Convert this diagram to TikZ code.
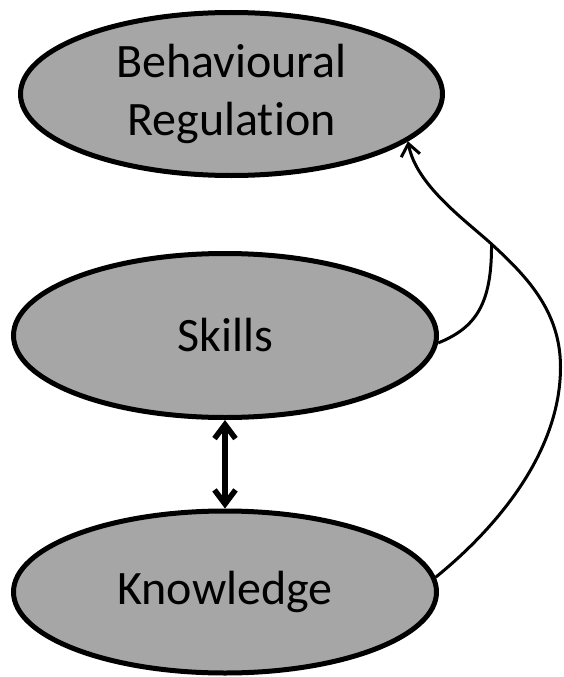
\documentclass[tikz,border=0pt]{standalone}
\usepackage{fontspec}
\setmainfont{Carlito}[Ligatures=NoCommon]
\usetikzlibrary{arrows.meta,shapes.geometric}
\definecolor{ovalfill}{RGB}{166,166,166}
\begin{document}
\begin{tikzpicture}[x=1pt,y=-1pt,
  oval/.style={ellipse,draw=black,line width=5pt,fill=ovalfill,inner sep=0pt,
    font=\fontsize{48}{58}\selectfont,align=center},
  conn/.style={line width=3pt},
  bi/.style={line width=5.5pt,{Straight Barb[length=14pt,width=21pt]}-{Straight Barb[length=14pt,width=21pt]}},
  tip/.style={-{Straight Barb[length=12pt,width=19pt]}}]
\useasboundingbox (0,0) rectangle (563,677);
\node[oval,minimum width=422pt,minimum height=163pt] (BR) at (231.5,94) {Behavioural\\Regulation};
\node[oval,minimum width=423pt,minimum height=164pt] (S) at (225,335.5) {Skills};
\node[oval,minimum width=423pt,minimum height=162pt] (K) at (225,592) {Knowledge};
\coordinate (J) at (491.5,244);
\coordinate (R) at (560.5,367);
\draw[bi] (S.south) -- (K.north);
\draw[conn,tip] (K.4) .. controls (500,525) and (560.5,450) .. (R)
   .. controls (560.5,310) and (525,275) .. (J)
   .. controls (465,220) and (416,185) .. (BR.-15);
\draw[conn] (S.-2) .. controls (475,328) and (492,305) .. (J);
\end{tikzpicture}
\end{document}
